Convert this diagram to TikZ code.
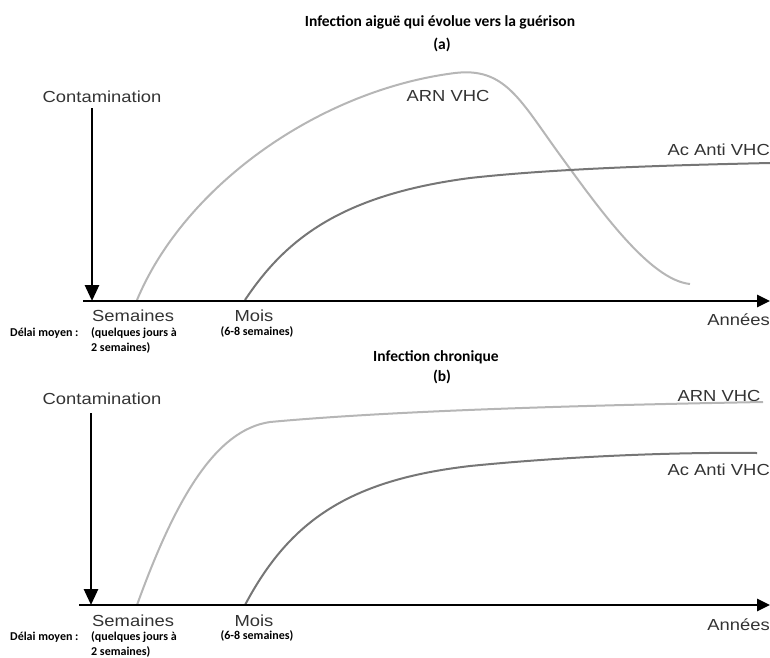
\documentclass[tikz,border=0pt]{standalone}
\usepackage{fontspec}
\setmainfont{Carlito}
\newfontfamily\policearial{Liberation Sans}[FakeStretch=1.15]
\usetikzlibrary{arrows.meta}
\usetikzlibrary{positioning}
\definecolor{grisclair}{RGB}{182,182,182}
\definecolor{grisfonce}{RGB}{118,118,118}

\begin{document}
\begin{tikzpicture} [ x=1pt, y=-1pt
								, titre/.style={font=\bfseries\fontsize{15.5}{17}\selectfont, inner sep=0pt}
								, etiquette/.style={font=\policearial\fontsize{16}{18}\selectfont, text=black!80, inner sep=0pt}
								, delai/.style={font=\bfseries\fontsize{12}{15}\selectfont, inner sep=0pt, anchor=west, align=left}
								, axe/.style={draw, line width=2.6pt, arrows={-Triangle[length=13pt, width=12pt]}}
								, fleche/.style={draw, line width=2.8pt, arrows={-Triangle[length=16pt, width=14pt]}}
								, arn/.style={draw=grisclair, line width=2pt}
								, anticorps/.style={draw=grisfonce, line width=2pt}
								]
	\useasboundingbox (0,0) rectangle (770,657);

	% (a) infection aigue
	\node (TitreA) 		[titre] at (440,22) {Infection aiguë qui évolue vers la guérison};
	\node (LettreA) 		[titre] at (442,45) {(a)};
	\node (ContA) 		[etiquette] at (102,97) {Contamination};
	\node (ArnA) 			[etiquette] at (448,96) {ARN VHC};
	\node (AcA) 			[etiquette, anchor=east] at (770,150) {Ac Anti VHC};
	\node (SemA) 			[etiquette, anchor=west] at (92,316) {Semaines};
	\node (MoisA) 		[etiquette] at (254,316) {Mois};
	\node (AnneesA) 		[etiquette, anchor=east] at (770,320) {Années};
	\node (DelaiA) 		[delai] at (10,333) {Délai moyen :};
	\node (QuelquesA) 	[delai] at (91,340) {(quelques jours à\\2 semaines)};
	\node (SixA) 			[delai, anchor=center] at (257,332) {(6-8 semaines)};

	\coordinate (hautA) at (92,108);
	\coordinate (basA) at (92,301);
	\coordinate (origineA) at (83,301);
	\coordinate (finA) at (770,301);

	\draw [arn] (137,300) .. controls (185,185) and (320,90) .. (455,73) .. controls (505,67) and (520,100) .. (560,155) .. controls (600,210) and (650,280) .. (690,284);
	\draw [anticorps] (245,300) .. controls (285,240) and (340,195) .. (470,178) .. controls (560,168) and (680,165) .. (770,163);
	\draw [axe] (origineA) -- (finA);
	\draw [fleche] (hautA) -- (basA);

	% (b) infection chronique
	\node (TitreB) 		[titre] at (436,357) {Infection chronique};
	\node (LettreB) 		[titre] at (442,377) {(b)};
	\node (ContB) 		[etiquette] at (102,399) {Contamination};
	\node (ArnB) 			[etiquette] at (719,396) {ARN VHC};
	\node (AcB) 			[etiquette, anchor=east] at (770,470) {Ac Anti VHC};
	\node (SemB) 			[etiquette, anchor=west] at (92,621) {Semaines};
	\node (MoisB) 		[etiquette] at (254,621) {Mois};
	\node (AnneesB) 		[etiquette, anchor=east] at (770,625) {Années};
	\node (DelaiB) 		[delai] at (10,637) {Délai moyen :};
	\node (QuelquesB) 	[delai] at (91,644) {(quelques jours à\\2 semaines)};
	\node (SixB) 			[delai, anchor=center] at (257,636) {(6-8 semaines)};

	\coordinate (hautB) at (91,413);
	\coordinate (basB) at (91,605);
	\coordinate (origineB) at (79,605);
	\coordinate (finB) at (770,605);

	\draw [arn] (137,605) .. controls (175,500) and (215,430) .. (270,422) .. controls (400,410) and (600,405) .. (763,402);
	\draw [anticorps] (245,605) .. controls (290,520) and (350,480) .. (470,466) .. controls (570,456) and (680,452) .. (757,453);
	\draw [axe] (origineB) -- (finB);
	\draw [fleche] (hautB) -- (basB);

\end{tikzpicture}
\end{document}
